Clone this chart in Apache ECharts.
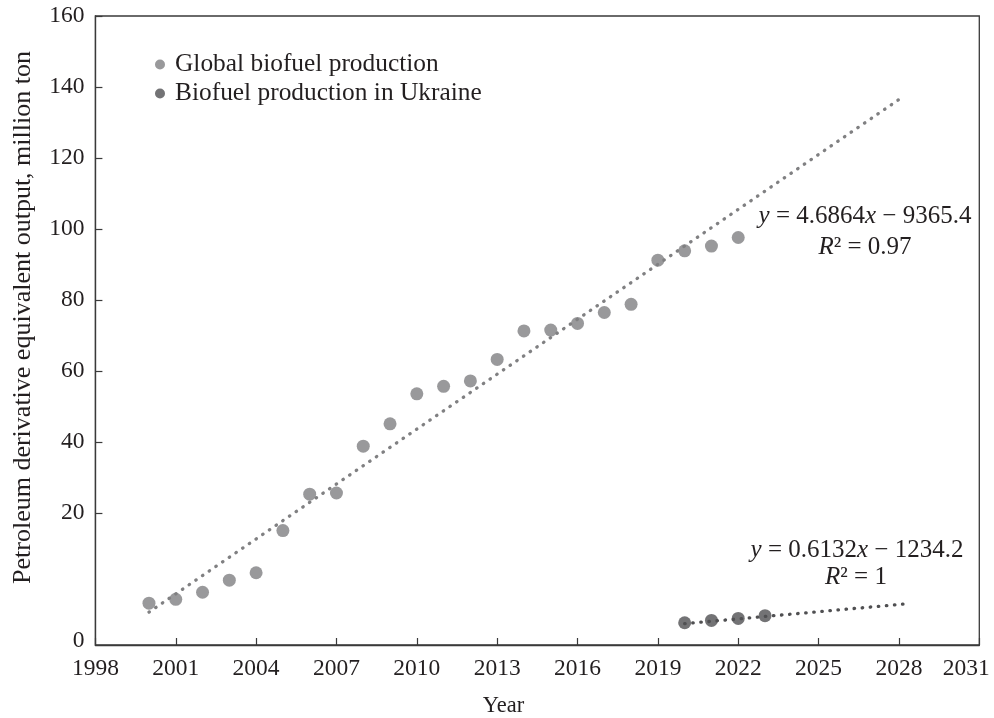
<!DOCTYPE html>
<html>
<head>
<meta charset="utf-8">
<style>
  html, body { margin: 0; padding: 0; background: #ffffff; }
  #chart { width: 994px; height: 718px; }
</style>
<script src="https://cdn.jsdelivr.net/npm/echarts@6/dist/echarts.min.js"></script>
</head>
<body>
<div id="chart"></div>
<script>
// Biofuel output, million ton of petroleum derivative equivalent
const globalYears = [2000, 2001, 2002, 2003, 2004, 2005, 2006, 2007, 2008, 2009, 2010, 2011,
                     2012, 2013, 2014, 2015, 2016, 2017, 2018, 2019, 2020, 2021, 2022];
const globalOutput = [9.7, 10.7, 12.5, 15.6, 17.5, 28.3, 37.6, 37.9, 49.9, 55.6, 63.3, 65.2,
                      66.6, 72.1, 79.4, 79.6, 81.3, 84.1, 86.2, 97.5, 99.9, 101.1, 103.3];
const ukraineYears = [2020, 2021, 2022, 2023];
const ukraineOutput = [4.7, 5.3, 5.8, 6.5];

// Linear trend lines: [slope, intercept] and the year span each one covers
const globalFit = [4.6864, -9365.4];
const ukraineFit = [0.6132, -1234.2];
const globalFitSpan = [2000, 2028.2];
const ukraineFitSpan = [2020, 2028.4];

// Axis text
const seriesNames = ['Global biofuel production', 'Biofuel production in Ukraine'];
const yTickLabels = ['160', '140', '120', '100', '80', '60', '40', '20'];
const yBottomLabel = '0';
const xRange = [1998, 2031];
const xStep = 3;

// Layout / style constants
const Y_MIN = -1, Y_MAX = 160;
const Y_LABEL_STEP = 18.17;          // spacing of the left-axis labels, in axis units
const GREY = '#808082';
const DARK = '#505052';
const INK = '#231f20';
const AXIS = '#3a3a3a';
const FONT = '"Liberation Serif", "Times New Roman", serif';

const yLabelValues = yTickLabels.map((t, i) => Y_MAX - i * Y_LABEL_STEP);
const yLabelText = new Map(yLabelValues.map((v, i) => [v.toFixed(3), yTickLabels[i]]));
yLabelText.set((0).toFixed(3), yBottomLabel);

function fitLine(fit, span) {
  return span.map(x => [x, fit[0] * x + fit[1]]);
}
function pairs(xs, ys) {
  return xs.map((x, i) => [x, ys[i]]);
}

const chart = echarts.init(document.getElementById('chart'), null, { renderer: 'canvas' });

const dotted = { width: 3.3, type: [0.5, 7.6], cap: 'round' };
const italic = { i: { fontStyle: 'italic', fontFamily: FONT, fontSize: 25, fill: INK } };

chart.setOption({
  animation: false,
  backgroundColor: '#ffffff',
  textStyle: { fontFamily: FONT, color: INK },
  grid: {
    left: 95.4, right: 14.7, top: 16, bottom: 73,
    containLabel: false, outerBoundsMode: 'none',
    show: true, borderColor: AXIS, borderWidth: 1.3, backgroundColor: 'transparent'
  },
  legend: {
    orient: 'vertical',
    left: 150, top: 45,
    itemWidth: 10, itemHeight: 10, itemGap: 0,
    icon: 'circle',
    data: seriesNames,
    textStyle: { fontFamily: FONT, fontSize: 25.4, color: INK, lineHeight: 29, padding: [0, 0, 0, 5] }
  },
  xAxis: {
    type: 'value',
    min: xRange[0], max: xRange[1], interval: xStep,
    splitLine: { show: false },
    axisLine: { onZero: false, lineStyle: { color: AXIS, width: 1.3 } },
    axisTick: { inside: true, length: 7, lineStyle: { color: AXIS, width: 1.2 } },
    axisLabel: {
      fontFamily: FONT, fontSize: 23.5, color: INK, margin: 12,
      showMaxLabel: true, showMinLabel: true,
      // the last year is nudged inward so it stays on the page
      formatter: v => (v === xRange[1] ? '{edge|' + v + '}' : String(v)),
      rich: { edge: { fontFamily: FONT, fontSize: 23.5, color: INK, padding: [0, 26, 0, 0] } }
    }
  },
  yAxis: {
    type: 'value',
    min: Y_MIN, max: Y_MAX,
    splitLine: { show: false },
    axisLine: { show: true, onZero: false, lineStyle: { color: AXIS, width: 1.3 } },
    axisTick: { inside: true, length: 7, customValues: yLabelValues, lineStyle: { color: AXIS, width: 1.2 } },
    axisLabel: {
      fontFamily: FONT, fontSize: 23.5, color: INK, margin: 11,
      customValues: yLabelValues.concat([0]),
      formatter: v => yLabelText.get(Number(v).toFixed(3)) || ''
    }
  },
  series: [
    {
      name: seriesNames[0], type: 'scatter',
      data: pairs(globalYears, globalOutput),
      symbol: 'circle', symbolSize: 13,
      itemStyle: { color: GREY }, z: 3
    },
    {
      name: seriesNames[1], type: 'scatter',
      data: pairs(ukraineYears, ukraineOutput),
      symbol: 'circle', symbolSize: 13,
      itemStyle: { color: DARK }, z: 3
    },
    {
      name: 'global-trend', type: 'line',
      data: fitLine(globalFit, globalFitSpan),
      symbol: 'none', silent: true,
      lineStyle: Object.assign({ color: GREY }, dotted), z: 4
    },
    {
      name: 'ukraine-trend', type: 'line',
      data: fitLine(ukraineFit, ukraineFitSpan),
      symbol: 'none', silent: true,
      lineStyle: Object.assign({ color: DARK }, dotted), z: 4
    }
  ],
  graphic: [
    {
      type: 'text', x: 23, y: 317.5, rotation: Math.PI / 2,
      style: {
        text: 'Petroleum derivative equivalent output, million ton',
        font: '26px ' + FONT, fill: INK, align: 'center', verticalAlign: 'middle'
      }
    },
    {
      type: 'text', x: 503.5, y: 706,
      style: { text: 'Year', font: '22.5px ' + FONT, fill: INK, align: 'center', verticalAlign: 'middle' }
    },
    {
      type: 'text', x: 865, y: 216,
      style: {
        text: '{i|y} = ' + globalFit[0] + '{i|x} \u2212 ' + Math.abs(globalFit[1]),
        rich: italic,
        font: '25px ' + FONT, fill: INK, align: 'center', verticalAlign: 'middle'
      }
    },
    {
      type: 'text', x: 865, y: 247,
      style: {
        text: '{i|R}\u00b2 = 0.97',
        rich: italic,
        font: '25px ' + FONT, fill: INK, align: 'center', verticalAlign: 'middle'
      }
    },
    {
      type: 'text', x: 857, y: 550,
      style: {
        text: '{i|y} = ' + ukraineFit[0] + '{i|x} \u2212 ' + Math.abs(ukraineFit[1]),
        rich: italic,
        font: '25px ' + FONT, fill: INK, align: 'center', verticalAlign: 'middle'
      }
    },
    {
      type: 'text', x: 856, y: 577,
      style: {
        text: '{i|R}\u00b2 = 1',
        rich: italic,
        font: '25px ' + FONT, fill: INK, align: 'center', verticalAlign: 'middle'
      }
    }
  ]
});
</script>
</body>
</html>
